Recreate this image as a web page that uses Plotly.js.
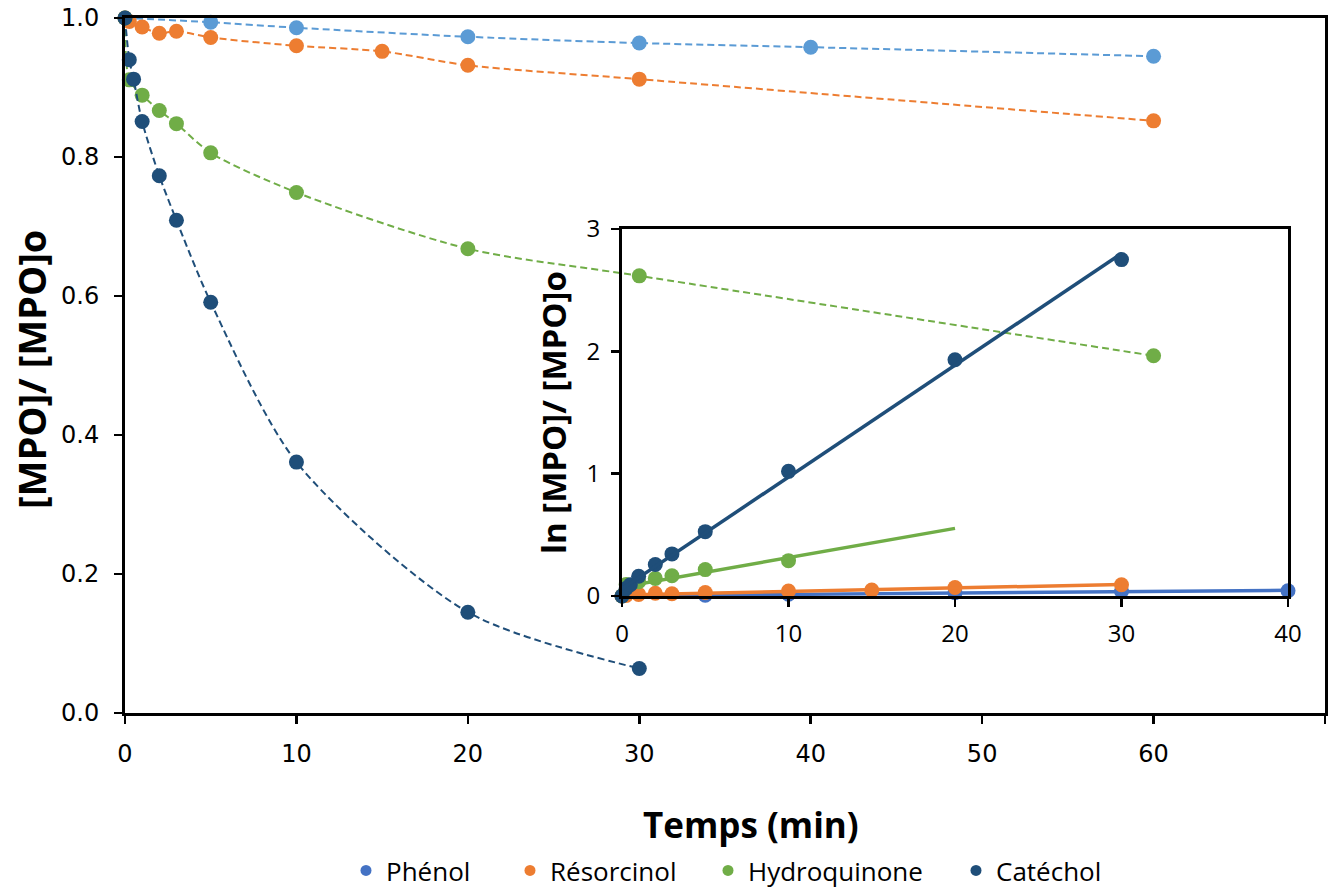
<!DOCTYPE html>
<html>
<head>
<meta charset="utf-8">
<script src="https://cdn.plot.ly/plotly-3.0.1.min.js"></script>
<style>
html,body{margin:0;padding:0;background:#fff;}
#chart{width:1337px;height:895px;}
</style>
</head>
<body>
<div id="chart"></div>
<script>
// ---- Main chart data: [MPO]/[MPO]o vs time (min)
const phenolT = [0, 5, 10, 20, 30, 40, 60];
const phenolC = [1.0, 0.994, 0.986, 0.973, 0.964, 0.958, 0.945];
const resorT = [0, 0.25, 1, 2, 3, 5, 10, 15, 20, 30, 60];
const resorC = [1.0, 0.995, 0.987, 0.978, 0.981, 0.972, 0.960, 0.952, 0.932, 0.912, 0.852];
const hydroT = [0, 0.25, 1, 2, 3, 5, 10, 20, 30, 60];
const hydroC = [1.0, 0.911, 0.889, 0.867, 0.848, 0.806, 0.749, 0.668, 0.629, 0.514];
const catT = [0, 0.25, 0.5, 1, 2, 3, 5, 10, 20, 30];
const catC = [1.0, 0.940, 0.912, 0.851, 0.773, 0.709, 0.591, 0.361, 0.145, 0.064];

// ---- Inset data: ln([MPO]o/[MPO]) vs time (min)
const phenolLnT = [0, 5, 10, 20, 30, 40];
const phenolLn = [0, 0.006, 0.014, 0.027, 0.037, 0.043];
const resorLnT = [0, 0.25, 1, 2, 3, 5, 10, 15, 20, 30];
const resorLn = [0, 0.005, 0.013, 0.022, 0.019, 0.028, 0.041, 0.049, 0.070, 0.092];
const hydroLnT = [0, 0.25, 1, 2, 3, 5, 10];
const hydroLn = [0, 0.093, 0.117, 0.144, 0.166, 0.216, 0.289];
const catLnT = [0, 0.25, 0.5, 1, 2, 3, 5, 10, 20, 30];
const catLn = [0, 0.062, 0.092, 0.161, 0.257, 0.344, 0.526, 1.019, 1.931, 2.75];

// ---- Inset linear trendlines (end points)
const phenolFitT = [0, 40];
const phenolFit = [0.002, 0.046];
const resorFitT = [0, 30];
const resorFit = [0.008, 0.095];
const hydroFitT = [0, 20];
const hydroFit = [0.074, 0.553];
const catFitT = [0, 30];
const catFit = [0.059, 2.80];

const seriesNames = ['Phénol', 'Résorcinol', 'Hydroquinone', 'Catéchol'];
const legendColors = ['#4472C4', '#ED7D31', '#70AD47', '#1F4E79'];

const cPhenolMain = '#5B9BD5';
const cPhenol = '#4472C4';
const cResor = '#ED7D31';
const cHydro = '#70AD47';
const cCat = '#1F4E79';

const MS = 15;
function mainTrace(x, y, color) {
  return {x: x, y: y, type: 'scatter', mode: 'lines+markers', xaxis: 'x', yaxis: 'y',
    line: {color: color, width: 2, dash: '7px,4px', shape: 'spline', smoothing: 0.8},
    marker: {color: color, size: MS}, cliponaxis: false, showlegend: false, hoverinfo: 'skip'};
}
function fitTrace(x, y, color) {
  return {x: x, y: y, type: 'scatter', mode: 'lines', xaxis: 'x2', yaxis: 'y2',
    line: {color: color, width: 3.5}, cliponaxis: false, showlegend: false, hoverinfo: 'skip'};
}
function insetPts(x, y, color) {
  return {x: x, y: y, type: 'scatter', mode: 'markers', xaxis: 'x2', yaxis: 'y2',
    marker: {color: color, size: MS}, cliponaxis: false, showlegend: false, hoverinfo: 'skip'};
}

const traces = [
  mainTrace(phenolT, phenolC, cPhenolMain),
  mainTrace(resorT, resorC, cResor),
  mainTrace(hydroT, hydroC, cHydro),
  mainTrace(catT, catC, cCat),
  insetPts(phenolLnT, phenolLn, cPhenol),
  fitTrace(phenolFitT, phenolFit, cPhenol),
  insetPts(resorLnT, resorLn, cResor),
  fitTrace(resorFitT, resorFit, cResor),
  insetPts(hydroLnT, hydroLn, cHydro),
  fitTrace(hydroFitT, hydroFit, cHydro),
  insetPts(catLnT, catLn, cCat),
  fitTrace(catFitT, catFit, cCat)
];
const legendIds = ['legend', 'legend2', 'legend3', 'legend4'];
seriesNames.forEach((n, i) => {
  traces.push({x: [null], y: [null], type: 'scatter', mode: 'markers', name: n,
    legend: legendIds[i],
    xaxis: 'x', yaxis: 'y', marker: {color: legendColors[i], size: 11}, showlegend: true});
});

const L = 125, R = 1325, T = 18, B = 713;
const W = R - L, H = B - T;
const px = v => (v - L) / W;
const py = v => (B - v) / H;

const axisCommon = {
  showline: true, linecolor: '#000', linewidth: 3, mirror: true,
  ticks: 'outside', ticklen: 8, tickwidth: 2.5, tickcolor: '#000',
  showgrid: false, zeroline: false, fixedrange: true
};

const TITLE_FONT = '"Open Sans", Lato, sans-serif';
const TICK_FONT = '"DejaVu Sans", Verdana, sans-serif';
const legendMarkerX = [368, 532, 730, 978];
const legendBase = {orientation: 'h', xanchor: 'left', yanchor: 'bottom', y: py(894),
  font: {family: TITLE_FONT, size: 26, color: '#000'}, bgcolor: 'rgba(0,0,0,0)',
  itemwidth: 30, borderwidth: 0};

const layout = {
  width: 1337, height: 895,
  margin: {l: L, r: 1337 - R, t: T, b: 895 - B, autoexpand: false},
  paper_bgcolor: '#fff', plot_bgcolor: 'rgba(0,0,0,0)',
  font: {family: TITLE_FONT, color: '#000'},
  xaxis: Object.assign({}, axisCommon, {range: [0, 70], dtick: 10, tick0: 0,
    domain: [0, 1], anchor: 'y',
    tickfont: {family: TICK_FONT, size: 24, color: '#000'},
    ticklabelstandoff: 9}),
  yaxis: Object.assign({}, axisCommon, {range: [0, 1], dtick: 0.2, tick0: 0, tickformat: '.1f',
    domain: [0, 1], anchor: 'x',
    tickfont: {family: TICK_FONT, size: 24, color: '#000'},
    ticklabelstandoff: 10}),
  xaxis2: Object.assign({}, axisCommon, {range: [0, 40], dtick: 10, tick0: 0,
    domain: [px(622), px(1288)], anchor: 'y2',
    tickfont: {family: TITLE_FONT, size: 24, color: '#000'},
    ticklabelstandoff: 6}),
  yaxis2: Object.assign({}, axisCommon, {range: [0, 3], dtick: 1, tick0: 0,
    domain: [py(596), py(229)], anchor: 'x2',
    tickfont: {family: TITLE_FONT, size: 24, color: '#000'},
    ticklabelstandoff: 6}),
  legend: Object.assign({}, legendBase, {x: px(legendMarkerX[0] - 22)}),
  legend2: Object.assign({}, legendBase, {x: px(legendMarkerX[1] - 22)}),
  legend3: Object.assign({}, legendBase, {x: px(legendMarkerX[2] - 22)}),
  legend4: Object.assign({}, legendBase, {x: px(legendMarkerX[3] - 22)}),
  annotations: [
    {text: '<b>[MPO]/ [MPO]o</b>', xref: 'paper', yref: 'paper', x: px(31), y: py(370),
     textangle: -90, showarrow: false, xanchor: 'center', yanchor: 'middle',
     font: {family: TITLE_FONT, size: 38, color: '#000'}},
    {text: '<b>Temps (min)</b>', xref: 'paper', yref: 'paper', x: px(751), y: py(824),
     showarrow: false, xanchor: 'center', yanchor: 'middle',
     font: {family: TITLE_FONT, size: 35, color: '#000'}},
    {text: '<b>ln [MPO]/ [MPO]o</b>', xref: 'paper', yref: 'paper', x: px(553), y: py(413),
     textangle: -90, showarrow: false, xanchor: 'center', yanchor: 'middle',
     font: {family: TITLE_FONT, size: 33, color: '#000'}}
  ],
  showlegend: true
};

Plotly.newPlot('chart', traces, layout, {staticPlot: true, displayModeBar: false});
</script>
</body>
</html>
